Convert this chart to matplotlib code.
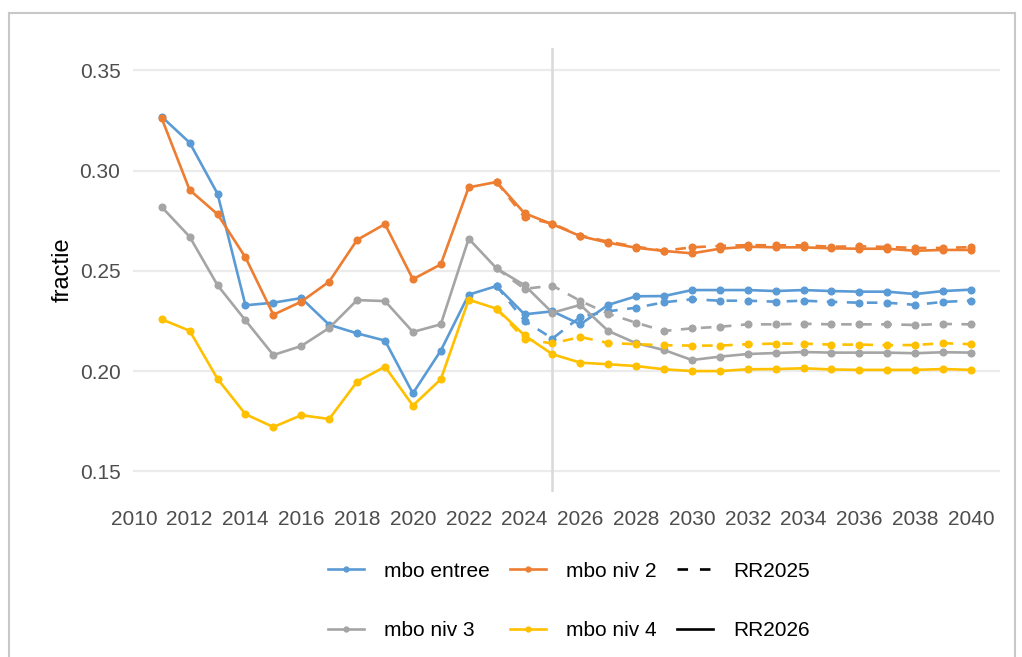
import matplotlib
matplotlib.use('Agg')
import matplotlib.pyplot as plt
from matplotlib.lines import Line2D

plt.rcParams['font.family'] = ['Liberation Sans', 'DejaVu Sans']

# jaren en reeksen
years = list(range(2011, 2041))
years_rr2025 = list(range(2023, 2041))

entree_rr2026 = [0.3268, 0.3139, 0.2884, 0.2328, 0.2341, 0.2364, 0.2231, 0.2188, 0.2152, 0.1889,
                 0.2102, 0.2381, 0.2424, 0.2283, 0.2298, 0.2233, 0.2330, 0.2373, 0.2374, 0.2404,
                 0.2404, 0.2404, 0.2399, 0.2404, 0.2399, 0.2396, 0.2396, 0.2384, 0.2399, 0.2406]
niv2_rr2026 = [0.3260, 0.2903, 0.2782, 0.2567, 0.2281, 0.2346, 0.2446, 0.2654, 0.2733, 0.2458,
               0.2532, 0.2916, 0.2943, 0.2787, 0.2732, 0.2673, 0.2640, 0.2615, 0.2599, 0.2587,
               0.2610, 0.2620, 0.2617, 0.2617, 0.2612, 0.2610, 0.2610, 0.2600, 0.2604, 0.2604]
niv3_rr2026 = [0.2818, 0.2670, 0.2428, 0.2253, 0.2080, 0.2125, 0.2215, 0.2354, 0.2349, 0.2195,
               0.2233, 0.2660, 0.2512, 0.2428, 0.2291, 0.2330, 0.2200, 0.2139, 0.2105, 0.2055,
               0.2072, 0.2085, 0.2090, 0.2095, 0.2092, 0.2092, 0.2092, 0.2089, 0.2094, 0.2092]
niv4_rr2026 = [0.2258, 0.2201, 0.1961, 0.1785, 0.1721, 0.1780, 0.1761, 0.1947, 0.2022, 0.1828,
               0.1959, 0.2356, 0.2311, 0.2178, 0.2084, 0.2042, 0.2034, 0.2025, 0.2009, 0.2000,
               0.2000, 0.2009, 0.2010, 0.2014, 0.2008, 0.2006, 0.2006, 0.2006, 0.2010, 0.2006]

entree_rr2025 = [0.2424, 0.2251, 0.2162, 0.2270, 0.2298, 0.2316, 0.2343, 0.2358, 0.2351,
                 0.2351, 0.2346, 0.2351, 0.2345, 0.2341, 0.2341, 0.2330, 0.2345, 0.2351]
niv2_rr2025 = [0.2943, 0.2767, 0.2735, 0.2676, 0.2645, 0.2620, 0.2600, 0.2617, 0.2624,
               0.2628, 0.2627, 0.2627, 0.2620, 0.2622, 0.2619, 0.2614, 0.2614, 0.2618]
niv3_rr2025 = [0.2512, 0.2410, 0.2426, 0.2350, 0.2286, 0.2241, 0.2200, 0.2213, 0.2221,
               0.2233, 0.2233, 0.2236, 0.2233, 0.2233, 0.2233, 0.2230, 0.2235, 0.2233]
niv4_rr2025 = [0.2311, 0.2159, 0.2138, 0.2170, 0.2140, 0.2134, 0.2129, 0.2127, 0.2127,
               0.2134, 0.2137, 0.2137, 0.2132, 0.2132, 0.2129, 0.2130, 0.2139, 0.2134]

labels = ['mbo entree', 'mbo niv 2', 'mbo niv 3', 'mbo niv 4']
colors = ['#5B9BD5', '#ED7D31', '#A5A5A5', '#FFC000']
x_ticks = list(range(2010, 2041, 2))
y_ticks = [0.15, 0.20, 0.25, 0.30, 0.35]

rr2026 = [entree_rr2026, niv2_rr2026, niv3_rr2026, niv4_rr2026]
rr2025 = [entree_rr2025, niv2_rr2025, niv3_rr2025, niv4_rr2025]

fig = plt.figure(figsize=(10.22, 6.57), dpi=100)
ax = fig.add_axes([133 / 1022, 1 - 492 / 657, (1000 - 133) / 1022, (492 - 48) / 657])

# rand om de figuur
fig.add_artist(Line2D([9 / 1022, 9 / 1022], [0, 1 - 13 / 657], color='#c8c8c8', lw=1.5))
fig.add_artist(Line2D([9 / 1022, 1015 / 1022], [1 - 13 / 657, 1 - 13 / 657], color='#c8c8c8', lw=1.5))
fig.add_artist(Line2D([1015 / 1022, 1015 / 1022], [0, 1 - 13 / 657], color='#c8c8c8', lw=1.5))

for yt in y_ticks:
    ax.axhline(yt, color='#ebebeb', lw=1.6, zorder=0)
ax.axvline(2025, color='#d9d9d9', lw=1.8, zorder=1)

dash = (0, (4, 3.6))
for i in range(4):
    ax.plot(years, rr2026[i], color=colors[i], lw=1.9, marker='o', ms=4.8, zorder=3)
    ax.plot(years_rr2025, rr2025[i], color=colors[i], lw=1.9, ls=dash, marker='o', ms=4.8, zorder=3)

ax.set_xlim(2009.97, 2041.04)
ax.set_ylim(0.1397, 0.3611)
ax.set_xticks(x_ticks)
ax.set_yticks(y_ticks)
ax.set_yticklabels(['%.2f' % v for v in y_ticks])
ax.tick_params(length=0, labelsize=15, labelcolor='#4d4d4d')
ax.tick_params(axis='y', pad=9)
ax.tick_params(axis='x', pad=13)
for s in ax.spines.values():
    s.set_visible(False)
ax.set_ylabel('fractie', fontsize=17, labelpad=4)

# legenda: kleur per niveau, lijntype per raming
h = [Line2D([], [], color=c, lw=1.9, marker='o', ms=3.5) for c in colors]
h_rr = [Line2D([], [], color='black', lw=1.9, ls=(0, (4, 4.5))), Line2D([], [], color='black', lw=1.9)]
handles = [h[0], h[2], h[1], h[3], h_rr[0], h_rr[1]]
names = [labels[0], labels[2], labels[1], labels[3], 'RR2025', 'RR2026']
fig.legend(handles, names, ncol=3, loc='center', bbox_to_anchor=(569 / 1022, 1 - 601 / 657),
           frameon=False, fontsize=15, handlelength=1.73, handletextpad=0.96,
           columnspacing=0.96, labelspacing=1.95, numpoints=1)

fig.savefig('out.png', dpi=100)
